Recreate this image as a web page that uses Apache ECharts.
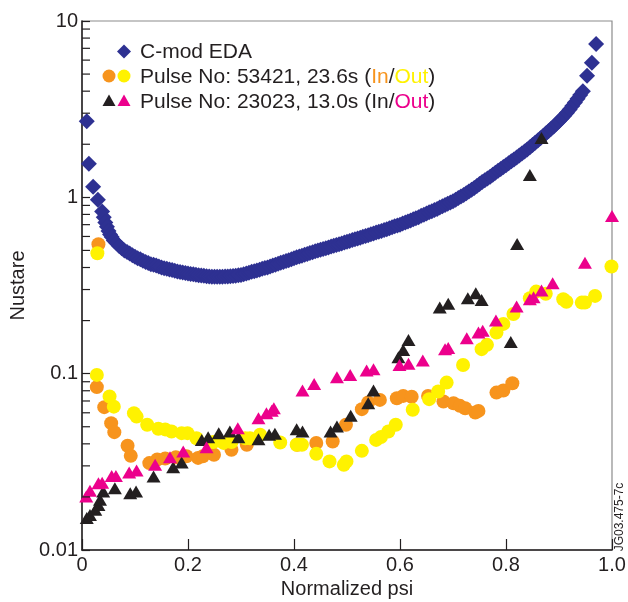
<!DOCTYPE html>
<html>
<head>
<meta charset="utf-8">
<script src="https://cdn.jsdelivr.net/npm/echarts@6/dist/echarts.min.js"></script>
<style>
  html, body { margin: 0; padding: 0; background: #fff; }
  #chart { width: 628px; height: 602px; }
</style>
</head>
<body>
<div id="chart"></div>
<script>
// Collisionality profiles versus normalized poloidal flux
const xTickLabels = ['0', '0.2', '0.4', '0.6', '0.8', '1.0'];
const yTickLabels = ['0.01', '0.1', '1', '10'];
const minorTickValues = [0.02, 0.03, 0.04, 0.05, 0.06, 0.07, 0.08, 0.09,
  0.2, 0.3, 0.4, 0.5, 0.6, 0.7, 0.8, 0.9, 2, 3, 4, 5, 6, 7, 8, 9];

// C-mod EDA profile
const cmodEda = [
  [0.009, 2.7], [0.013, 1.55], [0.021, 1.15], [0.030, 0.97], [0.038, 0.83],
  [0.041, 0.77], [0.044, 0.72], [0.047, 0.68], [0.050, 0.645], [0.053, 0.615],
  [0.056, 0.595], [0.060, 0.57], [0.065, 0.55],
  [0.070, 0.53], [0.075, 0.515], [0.080, 0.50], [0.085, 0.49], [0.090, 0.48],
  [0.095, 0.47], [0.100, 0.46], [0.105, 0.452], [0.110, 0.445], [0.115, 0.437],
  [0.120, 0.43], [0.125, 0.424], [0.130, 0.418], [0.135, 0.414], [0.140, 0.41],
  [0.145, 0.405], [0.150, 0.40], [0.155, 0.396], [0.160, 0.393], [0.165, 0.39],
  [0.170, 0.387], [0.175, 0.383], [0.180, 0.38], [0.185, 0.377], [0.190, 0.375],
  [0.195, 0.372], [0.200, 0.37], [0.205, 0.368], [0.210, 0.366], [0.215, 0.364],
  [0.220, 0.362], [0.225, 0.36], [0.230, 0.359], [0.235, 0.357], [0.240, 0.356],
  [0.245, 0.355], [0.250, 0.355], [0.255, 0.355], [0.260, 0.355], [0.265, 0.355],
  [0.270, 0.356], [0.275, 0.356], [0.280, 0.357], [0.285, 0.358], [0.290, 0.359],
  [0.295, 0.361], [0.300, 0.363], [0.305, 0.366], [0.310, 0.37], [0.315, 0.374],
  [0.320, 0.378], [0.325, 0.381], [0.330, 0.385], [0.335, 0.389], [0.340, 0.393],
  [0.345, 0.397], [0.350, 0.40], [0.355, 0.405], [0.360, 0.41], [0.365, 0.415],
  [0.370, 0.42], [0.375, 0.425], [0.380, 0.43], [0.385, 0.435], [0.390, 0.44],
  [0.395, 0.446], [0.400, 0.452], [0.405, 0.457], [0.410, 0.462], [0.415, 0.467],
  [0.420, 0.472], [0.425, 0.477], [0.430, 0.483], [0.435, 0.488], [0.440, 0.494],
  [0.445, 0.50], [0.450, 0.505], [0.455, 0.51], [0.460, 0.515], [0.465, 0.52],
  [0.470, 0.526], [0.475, 0.531], [0.480, 0.537], [0.485, 0.542], [0.490, 0.548],
  [0.495, 0.554], [0.500, 0.56], [0.505, 0.566], [0.510, 0.572], [0.515, 0.578],
  [0.520, 0.584], [0.525, 0.59], [0.530, 0.597], [0.535, 0.603], [0.540, 0.61],
  [0.545, 0.617], [0.550, 0.624], [0.555, 0.631], [0.560, 0.638], [0.565, 0.645],
  [0.570, 0.653], [0.575, 0.66], [0.580, 0.668], [0.585, 0.677], [0.590, 0.685],
  [0.595, 0.692], [0.600, 0.70], [0.605, 0.71], [0.610, 0.72], [0.615, 0.73],
  [0.620, 0.74], [0.625, 0.75], [0.630, 0.76], [0.635, 0.772], [0.640, 0.785],
  [0.645, 0.797], [0.650, 0.81], [0.655, 0.822], [0.660, 0.835], [0.665, 0.847],
  [0.670, 0.86], [0.675, 0.875], [0.680, 0.89], [0.685, 0.905], [0.690, 0.92],
  [0.695, 0.935], [0.700, 0.95], [0.705, 0.97], [0.710, 0.99], [0.715, 1.01],
  [0.720, 1.03], [0.725, 1.055], [0.730, 1.08], [0.735, 1.105], [0.740, 1.13],
  [0.745, 1.16], [0.750, 1.19], [0.755, 1.22], [0.760, 1.25], [0.765, 1.28],
  [0.770, 1.31], [0.775, 1.345], [0.780, 1.38], [0.785, 1.415], [0.790, 1.45],
  [0.795, 1.485], [0.800, 1.52], [0.805, 1.56], [0.810, 1.60], [0.815, 1.64],
  [0.820, 1.68], [0.825, 1.725], [0.830, 1.77], [0.835, 1.82], [0.840, 1.87],
  [0.845, 1.925], [0.850, 1.98], [0.855, 2.04], [0.860, 2.10], [0.865, 2.165],
  [0.870, 2.23], [0.875, 2.30], [0.880, 2.37], [0.885, 2.445], [0.890, 2.52],
  [0.895, 2.61], [0.900, 2.70], [0.905, 2.80], [0.910, 2.90], [0.915, 3.02],
  [0.920, 3.15], [0.925, 3.30], [0.930, 3.45], [0.935, 3.62], [0.940, 3.80],
  [0.945, 4.0], [0.953, 4.9], [0.962, 5.8], [0.970, 7.4]
];

// Pulse 53421, 23.6 s, inboard
const pulse53421In = [
  [0.031, 0.542], [0.028, 0.0839], [0.042, 0.0646], [0.055, 0.0524], [0.061, 0.0466],
  [0.086, 0.039], [0.092, 0.0342], [0.127, 0.0311], [0.142, 0.0326], [0.157, 0.033],
  [0.177, 0.0336], [0.197, 0.034], [0.219, 0.0333], [0.228, 0.034], [0.249, 0.0347],
  [0.282, 0.037], [0.311, 0.0395], [0.406, 0.0395], [0.442, 0.0404], [0.473, 0.0412],
  [0.498, 0.0513], [0.528, 0.0629], [0.540, 0.0686], [0.562, 0.071], [0.594, 0.0726],
  [0.606, 0.0748], [0.622, 0.074], [0.653, 0.0748], [0.682, 0.0695], [0.701, 0.068],
  [0.713, 0.0657], [0.723, 0.0637], [0.742, 0.0602], [0.748, 0.0615], [0.782, 0.0781],
  [0.795, 0.0802], [0.812, 0.0883]
];

// Pulse 53421, 23.6 s, outboard
const pulse53421Out = [
  [0.029, 0.482], [0.028, 0.0984], [0.052, 0.0742], [0.060, 0.065], [0.098, 0.0597],
  [0.103, 0.0571], [0.123, 0.0513], [0.144, 0.0487], [0.157, 0.0483], [0.169, 0.047],
  [0.188, 0.046], [0.199, 0.046], [0.216, 0.043], [0.248, 0.041], [0.267, 0.0405],
  [0.282, 0.041], [0.308, 0.043], [0.317, 0.043], [0.336, 0.045], [0.374, 0.0407],
  [0.405, 0.0395], [0.415, 0.0395], [0.442, 0.0351], [0.467, 0.0318], [0.494, 0.0304],
  [0.499, 0.0318], [0.528, 0.0365], [0.555, 0.0421], [0.564, 0.0437], [0.578, 0.047],
  [0.592, 0.0513], [0.624, 0.0624], [0.655, 0.0717], [0.672, 0.0792], [0.688, 0.089],
  [0.719, 0.112], [0.754, 0.1377], [0.764, 0.1457], [0.782, 0.171], [0.795, 0.1915],
  [0.814, 0.218], [0.845, 0.268], [0.857, 0.292], [0.875, 0.284], [0.908, 0.264],
  [0.914, 0.256], [0.943, 0.253], [0.949, 0.253], [0.968, 0.276], [0.999, 0.405]
];

// Pulse 23023, 13.0 s, inboard
const pulse23023In = [
  [0.009, 0.0152], [0.015, 0.0158], [0.025, 0.0169], [0.031, 0.018], [0.034, 0.0193],
  [0.040, 0.0215], [0.062, 0.0224], [0.091, 0.021], [0.102, 0.0215], [0.135, 0.0261],
  [0.172, 0.0295], [0.188, 0.0313], [0.226, 0.0421], [0.238, 0.0436], [0.258, 0.046],
  [0.279, 0.047], [0.295, 0.0436], [0.333, 0.0425], [0.353, 0.045], [0.364, 0.0456],
  [0.405, 0.0484], [0.416, 0.047], [0.469, 0.047], [0.481, 0.0501], [0.507, 0.0577],
  [0.540, 0.068], [0.550, 0.0802], [0.597, 0.124], [0.606, 0.1364], [0.616, 0.155],
  [0.675, 0.237], [0.691, 0.249], [0.728, 0.268], [0.743, 0.286], [0.754, 0.262],
  [0.809, 0.151], [0.821, 0.544], [0.845, 1.34], [0.867, 2.17]
];

// Pulse 23023, 13.0 s, outboard
const pulse23023Out = [
  [0.008, 0.0201], [0.015, 0.0217], [0.031, 0.0239], [0.038, 0.0241], [0.056, 0.0263],
  [0.064, 0.0263], [0.089, 0.0275], [0.103, 0.0282], [0.138, 0.0304], [0.166, 0.0336],
  [0.191, 0.0362], [0.235, 0.0383], [0.294, 0.0491], [0.333, 0.0559], [0.348, 0.0597],
  [0.358, 0.0617], [0.362, 0.0637], [0.416, 0.0802], [0.438, 0.0875], [0.481, 0.0955],
  [0.506, 0.0984], [0.537, 0.1042], [0.550, 0.106], [0.599, 0.112], [0.616, 0.114],
  [0.643, 0.1187], [0.685, 0.1376], [0.691, 0.14], [0.726, 0.159], [0.748, 0.171],
  [0.756, 0.175], [0.781, 0.2], [0.820, 0.24], [0.845, 0.2644], [0.852, 0.271],
  [0.867, 0.296], [0.888, 0.326], [0.949, 0.426], [1.0, 0.784]
];

const COL_BLUE = '#2E3192';
const COL_ORANGE = '#F7941D';
const COL_YELLOW = '#FFF200';
const COL_BLACK = '#231F20';
const COL_PINK = '#EC008C';
const FONT = '"Liberation Sans", Arial, Helvetica, sans-serif';

const chart = echarts.init(document.getElementById('chart'), null, { renderer: 'canvas' });

function scatter(name, data, symbol, size, color) {
  return {
    name, type: 'scatter', data, symbol, symbolSize: size, clip: false,
    itemStyle: { color, opacity: 1 }, emphasis: { disabled: true }, z: 3
  };
}

const legendText = (x, y, str, rich) => ({
  type: 'text', x, y, z: 100,
  style: { text: str, rich, fill: COL_BLACK, font: '21px ' + FONT, verticalAlign: 'middle' }
});
const baseRich = { fontSize: 21, fontFamily: FONT, fill: COL_BLACK, color: COL_BLACK };

chart.setOption({
  animation: false,
  backgroundColor: '#fff',
  grid: {
    left: 82, right: 16, top: 21, bottom: 52,
    show: true, borderColor: '#8c8c8c', borderWidth: 1.2,
    outerBoundsMode: 'none', containLabel: false
  },
  xAxis: {
    type: 'value', min: 0, max: 1, interval: 0.2,
    axisLine: { show: true, lineStyle: { color: COL_BLACK, width: 1.5 } },
    axisTick: { show: true, inside: true, length: 11, lineStyle: { color: COL_BLACK, width: 1.2 } },
    axisLabel: {
      fontSize: 20, fontFamily: FONT, color: COL_BLACK, margin: 5,
      formatter: v => xTickLabels[Math.round(v / 0.2)]
    },
    splitLine: { show: false },
    name: 'Normalized psi', nameLocation: 'middle', nameGap: 29,
    nameTextStyle: { fontSize: 20, fontFamily: FONT, color: COL_BLACK }
  },
  yAxis: {
    type: 'log', logBase: 10, min: 0.01, max: 10,
    axisLine: { show: true, lineStyle: { color: COL_BLACK, width: 1.5 } },
    axisTick: { show: true, inside: true, length: 8, lineStyle: { color: COL_BLACK, width: 1.2 } },
    axisLabel: {
      fontSize: 20, fontFamily: FONT, color: COL_BLACK, margin: 4,
      formatter: v => yTickLabels[Math.round(Math.log10(v)) + 2]
    },
    splitLine: { show: false },
    name: 'Nustare', nameLocation: 'middle', nameGap: 42,
    nameTextStyle: { fontSize: 20, fontFamily: FONT, color: COL_BLACK }
  },
  series: [
    {
      // minor ticks at 2..9 of each decade on the log axis
      type: 'custom', silent: true, clip: false, z: 4,
      data: minorTickValues.map(v => [0, v]),
      renderItem: (params, api) => {
        const p = api.coord([0, api.value(1)]);
        return {
          type: 'line',
          shape: { x1: p[0], y1: p[1], x2: p[0] + 8, y2: p[1] },
          style: { stroke: COL_BLACK, lineWidth: 1.2 }
        };
      }
    },
    scatter('C-mod EDA', cmodEda, 'diamond', 16, COL_BLUE),
    scatter('53421 In', pulse53421In, 'circle', 14, COL_ORANGE),
    scatter('53421 Out', pulse53421Out, 'circle', 14, COL_YELLOW),
    scatter('23023 In', pulse23023In, 'triangle', [14, 12], COL_BLACK),
    scatter('23023 Out', pulse23023Out, 'triangle', [14, 12], COL_PINK)
  ],
  graphic: [
    // legend keys
    { type: 'polygon', z: 100, shape: { points: [[124, 44.5], [131, 51.5], [124, 58.5], [117, 51.5]] }, style: { fill: COL_BLUE } },
    { type: 'circle', z: 100, shape: { cx: 109, cy: 76, r: 6.5 }, style: { fill: COL_ORANGE } },
    { type: 'circle', z: 100, shape: { cx: 124, cy: 76, r: 6.5 }, style: { fill: COL_YELLOW } },
    { type: 'polygon', z: 100, shape: { points: [[109, 94.5], [115.5, 106], [102.5, 106]] }, style: { fill: COL_BLACK } },
    { type: 'polygon', z: 100, shape: { points: [[124, 94.5], [130.5, 106], [117.5, 106]] }, style: { fill: COL_PINK } },
    legendText(140, 52, '{a|C-mod EDA}', { a: baseRich }),
    legendText(140, 77, '{a|Pulse No: 53421, 23.6s (}{o|In}{a|/}{y|Out}{a|)}', {
      a: baseRich,
      o: Object.assign({}, baseRich, { fill: COL_ORANGE, color: COL_ORANGE }),
      y: Object.assign({}, baseRich, { fill: COL_YELLOW, color: COL_YELLOW })
    }),
    legendText(140, 102, '{a|Pulse No: 23023, 13.0s (In/}{p|Out}{a|)}', {
      a: baseRich,
      p: Object.assign({}, baseRich, { fill: COL_PINK, color: COL_PINK })
    }),
    // figure reference tag
    {
      type: 'text', x: 620, y: 517, rotation: Math.PI / 2, z: 100,
      style: { text: 'JG03.475-7c', fill: COL_BLACK, font: '12px ' + FONT, align: 'center', verticalAlign: 'middle' }
    }
  ]
});
</script>
</body>
</html>
